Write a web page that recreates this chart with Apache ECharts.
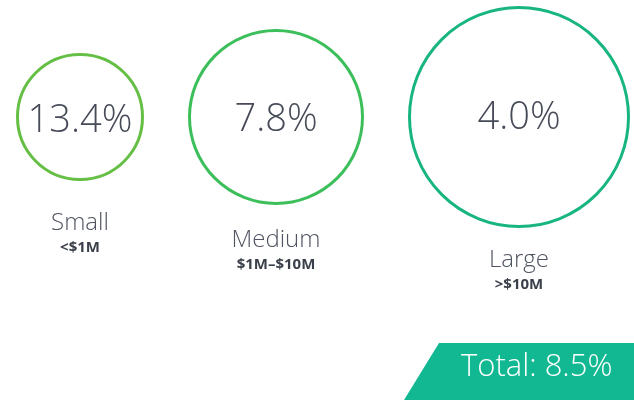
<!DOCTYPE html>
<html>
<head>
<meta charset="utf-8">
<script src="https://cdn.jsdelivr.net/npm/echarts@6/dist/echarts.min.js"></script>
<style>
  html, body { margin: 0; padding: 0; background: #ffffff; }
  #chart { width: 634px; height: 400px; }
</style>
</head>
<body>
<div id="chart"></div>
<script>
// ---- data ----
const categories = ['Small', 'Medium', 'Large'];
const ranges = ['<$1M', '$1M\u2013$10M', '>$10M'];
const rates = [13.4, 7.8, 4.0];
const total = [8.5];

// ---- styles (not data) ----
const symbolSizes = [125, 173, 219];
const strokeColors = ['#66bf45', '#3cbf5a', '#18b67e'];
const labelDistances = [30, 23, 20];
const valueOffsets = [4, 3, 1];
const startX = 16, gap = 44, centerY = 117, lineW = 3;

// layout: place circles left to right with a fixed gap
const xs = [];
let cursor = startX;
symbolSizes.forEach(function (s) {
  const outer = s + lineW;
  xs.push(cursor + outer / 2);
  cursor += outer + gap;
});

const chart = echarts.init(document.getElementById('chart'), null, { renderer: 'canvas' });

const FONT = '"Open Sans", "Lato", sans-serif';

const circleData = categories.map(function (c, i) {
  return {
    name: c,
    value: [xs[i], centerY, rates[i]],
    symbolSize: symbolSizes[i],
    itemStyle: { color: 'rgba(0,0,0,0)', borderColor: strokeColors[i], borderWidth: lineW, opacity: 1 },
    label: { offset: [0, valueOffsets[i]] }
  };
});

const labelData = categories.map(function (c, i) {
  return {
    name: c,
    value: [xs[i], centerY, rates[i]],
    symbolSize: symbolSizes[i],
    label: { distance: labelDistances[i] }
  };
});

chart.setOption({
  animation: false,
  grid: { left: 0, right: 0, top: 0, bottom: 0 },
  xAxis: { type: 'value', min: 0, max: 634, show: false },
  yAxis: { type: 'value', min: 0, max: 400, inverse: true, show: false },
  series: [
    {
      type: 'scatter',
      symbol: 'circle',
      data: circleData,
      silent: true,
      itemStyle: { opacity: 1 },
      label: {
        show: true,
        position: 'inside',
        formatter: function (p) { return p.value[2].toFixed(1) + '%'; },
        fontFamily: FONT,
        fontWeight: 300,
        fontSize: 38,
        color: '#464b57'
      }
    },
    {
      type: 'scatter',
      symbol: 'circle',
      data: labelData,
      silent: true,
      itemStyle: { color: 'rgba(0,0,0,0)', opacity: 1 },
      label: {
        show: true,
        position: 'bottom',
        formatter: function (p) { return '{n|' + p.name + '}\n{r|' + ranges[p.dataIndex] + '}'; },
        rich: {
          n: { fontFamily: FONT, fontWeight: 300, fontSize: 24, lineHeight: 28, color: '#4f5460', align: 'center' },
          r: { fontFamily: FONT, fontWeight: 'bold', fontSize: 15, lineHeight: 21, color: '#3a3f49', align: 'center' }
        }
      }
    }
  ],
  graphic: [
    {
      type: 'polygon',
      shape: { points: [[439, 343], [634, 343], [634, 400], [404, 400]] },
      style: { fill: '#12b892' },
      silent: true
    },
    {
      type: 'text',
      left: 461,
      top: 352,
      style: {
        text: 'Total: ' + total[0].toFixed(1) + '%',
        fill: '#ffffff',
        font: '300 31px ' + FONT
      },
      silent: true
    }
  ]
});
</script>
</body>
</html>
